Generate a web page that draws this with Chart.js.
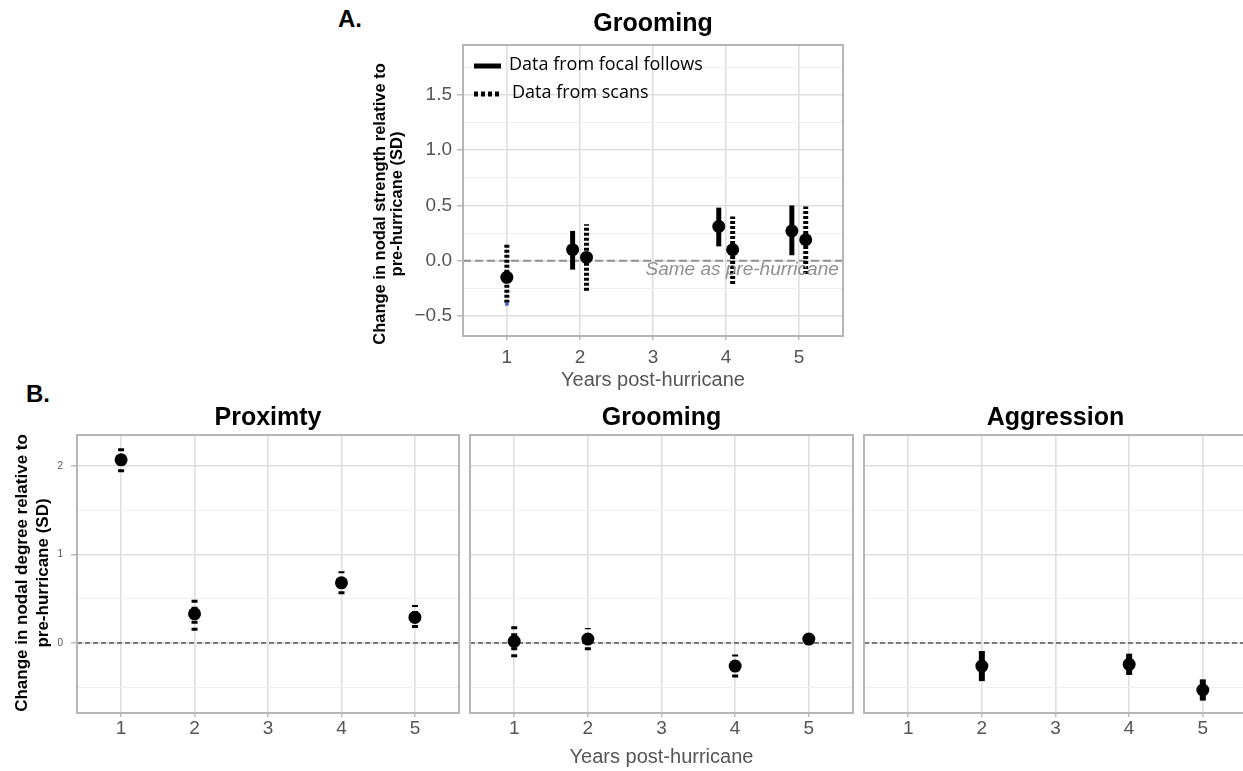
<!DOCTYPE html>
<html>
<head>
<meta charset="utf-8">
<script src="https://cdn.jsdelivr.net/npm/chart.js@4.4.1/dist/chart.umd.min.js"></script>
<style>
  html, body { margin: 0; padding: 0; background: #fff; overflow: hidden; }
  body { width: 1243px; height: 771px; position: relative; font-family: 'Liberation Sans', Arial, sans-serif; }
  canvas { position: absolute; }
  .tag { position: absolute; font-weight: bold; font-size: 24px; color: #000; line-height: 28px; }
</style>
</head>
<body>
<div class="tag" style="left:338px; top:5px">A.</div>
<div class="tag" style="left:26px; top:380px">B.</div>
<canvas id="chartA" width="512" height="400" style="left:340px; top:0px"></canvas>
<canvas id="chartProx" width="462" height="376" style="left:0px; top:395px"></canvas>
<canvas id="chartGroom" width="390" height="376" style="left:466px; top:395px"></canvas>
<canvas id="chartAggr" width="390" height="376" style="left:860px; top:395px"></canvas>
<script>
Chart.defaults.font.family = "'Liberation Sans', Arial, sans-serif";
Chart.defaults.color = '#555';
Chart.defaults.animation = false;

// ---- shared ----
const yearTicks = [1, 2, 3, 4, 5];
const xTitle = 'Years post-hurricane';

// ---- panel A: grooming, nodal strength ----
const titleA = 'Grooming';
const yTitleA = ['Change in nodal strength relative to', 'pre-hurricane (SD)'];
const legendLabelsA = ['Data from focal follows', 'Data from scans'];
const noteA = 'Same as pre-hurricane';
const focalYearsA = [2, 4, 5];
const focalMeanA = [0.10, 0.31, 0.27];
const focalLowA = [-0.08, 0.13, 0.05];
const focalHighA = [0.27, 0.48, 0.50];
const scanYearsA = [1, 2, 4, 5];
const scanMeanA = [-0.15, 0.03, 0.10, 0.19];
const scanLowA = [-0.38, -0.27, -0.21, -0.12];
const scanHighA = [0.15, 0.33, 0.40, 0.49];
const strayA = [-0.39];   // small blue mark under year 1
const majorTicksA = [-0.5, 0, 0.5, 1, 1.5];
const minorTicksA = [-0.25, 0.25, 0.75, 1.25, 1.75];

// ---- panel B: nodal degree ----
const yTitleB = ['Change in nodal degree relative to', 'pre-hurricane (SD)'];
const proxYears = [1, 2, 4, 5];
const proxMean = [2.07, 0.33, 0.68, 0.29];
const proxLow = [1.93, 0.14, 0.55, 0.17];
const proxHigh = [2.20, 0.50, 0.81, 0.43];
const groomYears = [1, 2, 4, 5];
const groomMean = [0.02, 0.045, -0.26, 0.045];
const groomLow = [-0.16, -0.08, -0.39, 0.01];
const groomHigh = [0.19, 0.17, -0.13, 0.08];
const aggrYears = [2, 4, 5];
const aggrMean = [-0.26, -0.24, -0.53];
const aggrLow = [-0.43, -0.36, -0.65];
const aggrHigh = [-0.09, -0.12, -0.41];
const majorTicksB = [0, 1, 2];
const minorTicksB = [-0.5, 0.5, 1.5];

const X_MIN = 0.4, X_MAX = 5.6;
const DODGE = 0.1;

function fmtA(v) {
    return v < 0 ? '\u2212' + (-v).toFixed(1) : v.toFixed(1);
}

function points(xs, ys, radius) {
    return {
        data: xs.map((x, i) => ({ x: x, y: ys[i] })),
        pointRadius: radius, pointHoverRadius: radius,
        backgroundColor: '#000', borderColor: '#000', borderWidth: 0,
        showLine: false,
    };
}

function errorBars(xs, low, high, width, dash) {
    return xs.map((x, i) => ({
        data: [{ x: x, y: low[i] }, { x: x, y: high[i] }],
        showLine: true, pointRadius: 0,
        borderColor: '#000', borderWidth: width, borderDash: dash,
        borderCapStyle: 'butt',
    }));
}

function zeroLine(color, width, dash) {
    return {
        data: [{ x: X_MIN, y: 0 }, { x: X_MAX, y: 0 }],
        showLine: true, pointRadius: 0,
        borderColor: color, borderWidth: width, borderDash: dash,
    };
}

function xScale(height, tickPad, showTitle, titlePad) {
    return {
        type: 'linear', min: X_MIN, max: X_MAX,
        afterBuildTicks: s => { s.ticks = yearTicks.map(v => ({ value: v })); },
        afterFit: s => { s.height = height; },
        ticks: { font: { size: 19 }, color: '#555', padding: tickPad, autoSkip: false, maxRotation: 0 },
        grid: { color: '#dedede', lineWidth: 1.6, tickLength: 4, tickColor: '#aaa', tickWidth: 1.2 },
        border: { display: false },
        title: { display: showTitle, text: xTitle, font: { size: 20 }, color: '#555', padding: { top: 0, bottom: titlePad } },
    };
}

function yScale(min, max, major, minor, width, tickOpts) {
    return {
        type: 'linear', min: min, max: max,
        afterBuildTicks: s => { s.ticks = major.concat(minor).sort((a, b) => a - b).map(v => ({ value: v })); },
        afterFit: s => { s.width = width; },
        ticks: {
            display: tickOpts.show, font: { size: tickOpts.size }, color: '#555', padding: tickOpts.pad, autoSkip: false,
            callback: v => major.includes(v) ? tickOpts.fmt(v) : '',
        },
        grid: {
            color: c => major.includes(c.tick.value) ? '#dedede' : '#efefef',
            lineWidth: c => major.includes(c.tick.value) ? 1.6 : 1,
            drawTicks: tickOpts.show, tickLength: tickOpts.len,
            tickColor: c => major.includes(c.tick.value) ? '#aaa' : 'rgba(0,0,0,0)', tickWidth: 1.2,
        },
        border: { display: false },
    };
}

// panel frame, drawn above the marks like ggplot's panel border
const frame = {
    id: 'frame',
    afterDatasetsDraw(chart) {
        const { ctx, chartArea: a } = chart;
        ctx.save();
        ctx.strokeStyle = '#b5b5b5';
        ctx.lineWidth = 2;
        ctx.strokeRect(a.left, a.top, a.right - a.left, a.bottom - a.top);
        ctx.restore();
    }
};

// rotated two-line y title
const sideTitle = {
    id: 'sideTitle',
    afterDraw(chart, args, o) {
        if (!o.lines) return;
        const ctx = chart.ctx;
        ctx.save();
        ctx.font = 'bold ' + o.size + "px 'Liberation Sans', Arial, sans-serif";
        ctx.fillStyle = '#000';
        ctx.textAlign = 'center';
        ctx.textBaseline = 'middle';
        o.lines.forEach((line, i) => {
            ctx.save();
            ctx.translate(o.x[i], o.y);
            ctx.rotate(-Math.PI / 2);
            ctx.fillText(line, 0, 0);
            ctx.restore();
        });
        ctx.restore();
    }
};

// legend + reference note inside panel A
const legendA = {
    id: 'legendA',
    afterDatasetsDraw(chart) {
        const { ctx, chartArea: a, scales } = chart;
        ctx.save();
        ctx.beginPath();
        ctx.rect(a.left, a.top, a.right - a.left, a.bottom - a.top);
        ctx.clip();
        ctx.font = "italic 19px 'Liberation Sans', Arial, sans-serif";
        ctx.fillStyle = '#8f8f8f';
        ctx.textAlign = 'center';
        ctx.textBaseline = 'middle';
        ctx.fillText(noteA, scales.x.getPixelForValue(4.22), scales.y.getPixelForValue(0) + 9);
        ctx.restore();

        const dashes = [[], [4, 3]];
        legendLabelsA.forEach((label, i) => {
            const y = a.top + 21 + i * 28;
            ctx.save();
            ctx.strokeStyle = '#000';
            ctx.lineWidth = 5;
            ctx.setLineDash(dashes[i]);
            ctx.beginPath();
            ctx.moveTo(a.left + 11, y);
            ctx.lineTo(a.left + 38, y);
            ctx.stroke();
            ctx.setLineDash([]);
            ctx.fillStyle = '#000';
            ctx.font = "18px 'Open Sans', sans-serif";
            ctx.textAlign = 'left';
            ctx.textBaseline = 'middle';
            ctx.fillText(label, a.left + 46 + i * 3, y - 1);
            ctx.restore();
        });
    }
};

// ---------- chart A ----------
const focalXA = focalYearsA.map(y => y - DODGE);
const scanXA = scanYearsA.map(y => focalYearsA.includes(y) ? y + DODGE * 0.9 : y);

new Chart(document.getElementById('chartA'), {
    type: 'scatter',
    data: {
        datasets: [
            points(focalXA, focalMeanA, 6.5),
            points(scanXA, scanMeanA, 6.5),
            Object.assign(points([1], strayA, 2.5), { backgroundColor: '#3d5fd0', pointStyle: 'rect' }),
            ...errorBars(focalXA, focalLowA, focalHighA, 5, []),
            ...errorBars(scanXA, scanLowA, scanHighA, 5, [3, 2]),
            zeroLine('#939393', 2, [8, 4]),
        ]
    },
    options: {
        responsive: false,
        layout: { autoPadding: false, padding: { left: 0, right: 9, top: 0, bottom: 0 } },
        scales: {
            x: xScale(64, 6, true, 8),
            y: yScale(-0.68, 1.95, majorTicksA, minorTicksA, 123, { show: true, size: 19, pad: 5, len: 6, fmt: fmtA }),
        },
        plugins: {
            legend: { display: false },
            tooltip: { enabled: false },
            title: {
                display: true, text: titleA, color: '#000', fullSize: false,
                font: { size: 25, weight: 'bold' }, padding: { top: 9, bottom: 6 },
            },
            sideTitle: { lines: yTitleA, size: 16.5, x: [40, 57], y: 204 },
        },
    },
    plugins: [frame, legendA, sideTitle],
});

// ---------- panel B facets ----------
function facet(id, title, xs, mean, low, high, barWidth, dash, first, middle) {
    new Chart(document.getElementById(id), {
        type: 'scatter',
        data: {
            datasets: [
                points(xs, mean, 6.5),
                ...errorBars(xs, low, high, barWidth, dash),
                zeroLine('#555', 1.6, [5, 3]),
            ]
        },
        options: {
            responsive: false,
            layout: { autoPadding: false, padding: { left: first ? 0 : 4, right: 3, top: 0, bottom: 0 } },
            scales: {
                x: xScale(58, 0, middle, 2),
                y: yScale(-0.79, 2.35, majorTicksB, minorTicksB, first ? 77 : 0,
                    { show: first, size: 10, pad: 8, len: 6, fmt: v => String(v) }),
            },
            plugins: {
                legend: { display: false },
                tooltip: { enabled: false },
                title: {
                    display: true, text: title, color: '#000', fullSize: false,
                    font: { size: 25, weight: 'bold' }, padding: { top: 8, bottom: 2 },
                },
                sideTitle: first ? { lines: yTitleB, size: 17, x: [22, 43], y: 178 } : {},
            },
        },
        plugins: [frame, sideTitle],
    });
}

facet('chartProx', 'Proximty', proxYears, proxMean, proxLow, proxHigh, 6, [3, 4], true, false);
facet('chartGroom', 'Grooming', groomYears, groomMean, groomLow, groomHigh, 6, [3, 4], false, true);
facet('chartAggr', 'Aggression', aggrYears, aggrMean, aggrLow, aggrHigh, 6, [], false, false);
</script>
</body>
</html>
